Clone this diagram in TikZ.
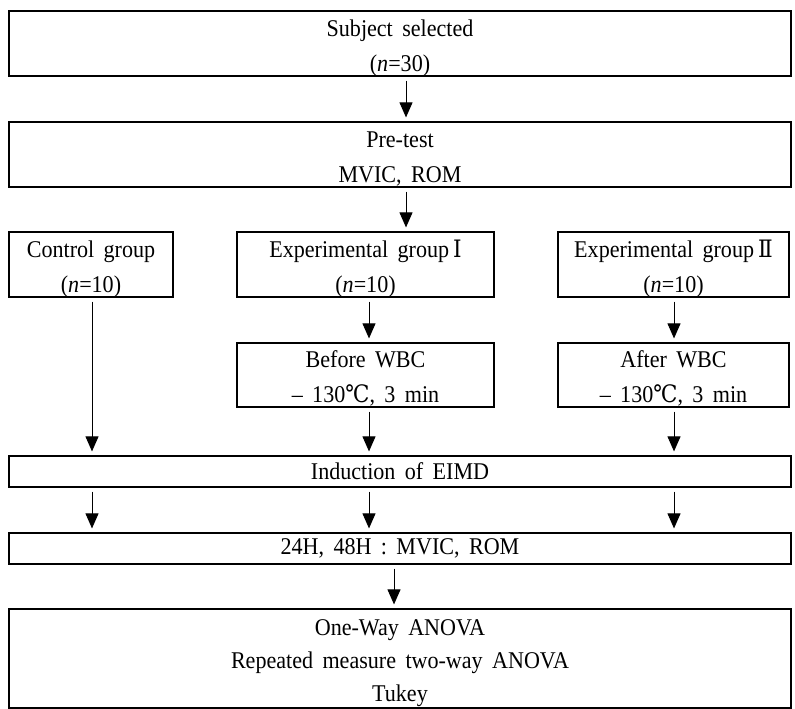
\documentclass[tikz,border=0pt]{standalone}
\usepackage{fontspec}
\setmainfont{Liberation Serif}[FakeStretch=0.92, WordSpace=1.7]
\newfontfamily\sym{DejaVu Serif}[FakeStretch=0.9]
\usetikzlibrary{arrows.meta}
\begin{document}
\begin{tikzpicture}[x=1pt,y=-1pt,
  box/.style={draw=black, line width=1.2pt, inner sep=0pt},
  txt/.style={align=center, inner sep=0pt, font=\fontsize{24}{35}\selectfont},
  wide/.style={box, minimum width=782pt},
  arr/.style={line width=0.9pt, -{Triangle[width=13pt,length=15pt]},
    shorten <=4pt, shorten >=4pt},
]
\useasboundingbox (0,0) rectangle (795,709);

\node[wide, minimum height=65pt, label={[txt,yshift=-4.5pt]center:{Subject selected\\(\textit{n}=30)}}] (b1) at (400,43.5) {};
\node[wide, minimum height=65pt, label={[txt,yshift=-4pt]center:{Pre-test\\MVIC, ROM}}] (b2) at (400,154.5) {};
\node[box, minimum width=164pt, minimum height=65pt, label={[txt,yshift=-4.5pt]center:{Control group\\(\textit{n}=10)}}] (ctrl) at (91,264.5) {};
\node[box, minimum width=257pt, minimum height=65pt, label={[txt,yshift=-4.5pt]center:{Experimental group\,{\sym Ⅰ}\\(\textit{n}=10)}}] (e1) at (365.5,264.5) {};
\node[box, minimum width=231pt, minimum height=65pt, label={[txt,yshift=-4.5pt]center:{Experimental group\,{\sym Ⅱ}\\(\textit{n}=10)}}] (e2) at (673.5,264.5) {};
\node[box, minimum width=257pt, minimum height=64pt, label={[txt,yshift=-3pt]center:{Before WBC\\– 130{\sym ℃}, 3 min}}] (bw) at (365.5,375) {};
\node[box, minimum width=231pt, minimum height=64pt, label={[txt,yshift=-3pt]center:{After WBC\\– 130{\sym ℃}, 3 min}}] (aw) at (673.5,375) {};
\node[wide, minimum height=31pt, label={[txt]center:{Induction of EIMD}}] (ind) at (400,471.5) {};
\node[wide, minimum height=31pt, label={[txt]center:{24H, 48H : MVIC, ROM}}] (h24) at (400,548.5) {};
\node[wide, minimum height=99pt, label={[txt,font=\fontsize{24}{33}\selectfont,yshift=-5pt]center:{One-Way ANOVA\\Repeated measure two-way ANOVA\\Tukey}}] (fin) at (400,658.5) {};

\coordinate (xm) at (406,0);
\coordinate (xa) at (92,0);
\coordinate (xb) at (369,0);
\coordinate (xc) at (674,0);
\coordinate (xd) at (394,0);

\draw[arr] (b1.south -| xm) -- (b2.north -| xm);
\draw[arr] (b2.south -| xm) -- (e1.north -| xm);
\draw[arr] (ctrl.south -| xa) -- (ind.north -| xa);
\draw[arr] (e1.south -| xb) -- (bw.north -| xb);
\draw[arr] (e2.south -| xc) -- (aw.north -| xc);
\draw[arr] (bw.south -| xb) -- (ind.north -| xb);
\draw[arr] (aw.south -| xc) -- (ind.north -| xc);
\draw[arr] (ind.south -| xa) -- (h24.north -| xa);
\draw[arr] (ind.south -| xb) -- (h24.north -| xb);
\draw[arr] (ind.south -| xc) -- (h24.north -| xc);
\draw[arr] (h24.south -| xd) -- (fin.north -| xd);
\end{tikzpicture}
\end{document}
